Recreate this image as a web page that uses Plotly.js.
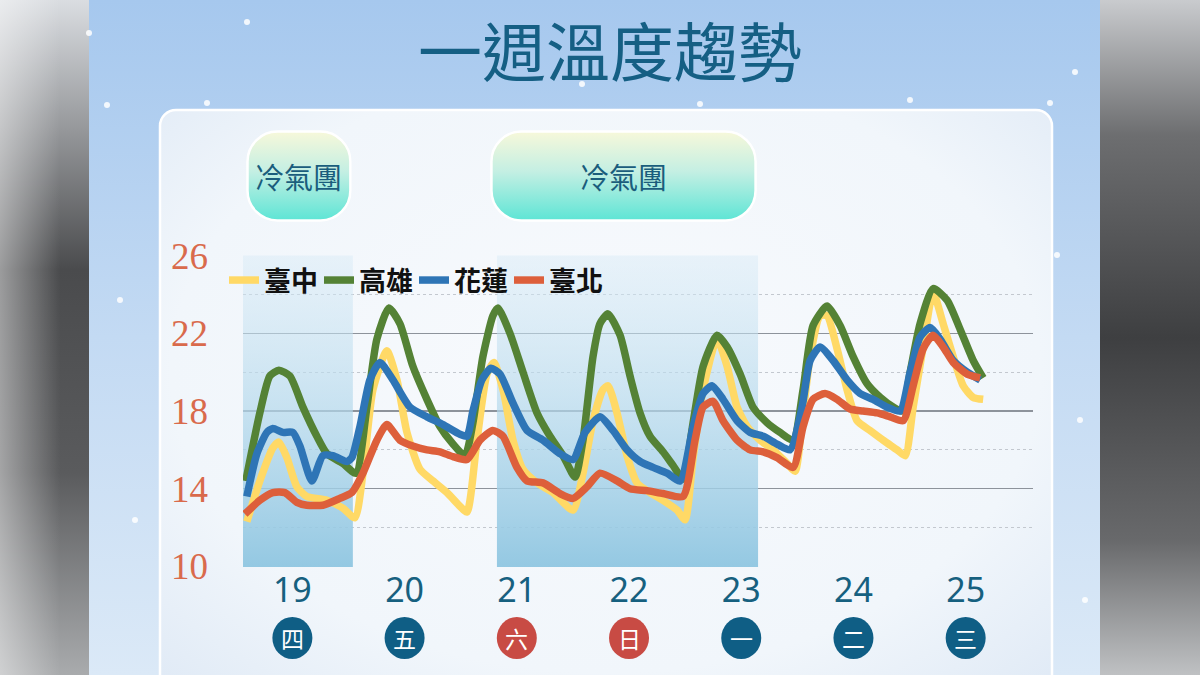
<!DOCTYPE html>
<html>
<head>
<meta charset="utf-8">
<script src="https://cdn.plot.ly/plotly-3.0.1.min.js"></script>
<style>
html,body{margin:0;padding:0;background:#ffffff;}
#chart{width:1200px;height:675px;}
</style>
</head>
<body>
<div id="chart"></div>
<script>
// ---------- data ----------
const chartTitle = '一週溫度趨勢';
const days = [19, 20, 21, 22, 23, 24, 25];
const dayLabels = ['19', '20', '21', '22', '23', '24', '25'];
const weekdays = ['四', '五', '六', '日', '一', '二', '三'];
const isWeekend = [false, false, true, true, false, false, false];
const coldStart = [18.56, 20.823];
const coldEnd = [19.539, 23.15];
const coldLabels = ['冷氣團', '冷氣團'];
const seriesNames = ['臺中', '高雄', '花蓮', '臺北'];
const yTicks = [10, 14, 18, 22, 26];
const yMinorTicks = [12, 16, 20, 24];

// time in days (fraction of day), temperature in °C
const taichungX = [18.594,18.710,18.826,18.880,18.951,19.040,19.129,19.308,19.450,19.557,19.629,19.718,19.842,19.932,20.021,20.137,20.253,20.377,20.493,20.556,20.645,20.734,20.796,20.877,20.966,21.055,21.180,21.322,21.501,21.590,21.679,21.768,21.813,21.893,21.982,22.071,22.187,22.303,22.428,22.499,22.571,22.660,22.784,22.874,22.963,23.052,23.168,23.284,23.409,23.480,23.542,23.614,23.703,23.765,23.854,23.943,24.033,24.148,24.264,24.389,24.461,24.532,24.621,24.710,24.799,24.889,24.978,25.067,25.156];
const taichungY = [12.3,14.4,16.1,16.4,15.6,14.1,13.6,13.4,13.0,12.5,14.8,19.1,21.1,19.6,16.9,15.0,14.4,13.8,13.1,12.8,16.5,19.9,20.5,19.1,16.5,15.0,14.3,13.8,12.9,14.8,17.5,19.1,19.3,17.9,15.7,14.3,13.8,13.4,12.9,12.4,15.6,19.1,21.7,20.3,18.2,17.2,16.5,16.0,15.3,14.9,17.4,20.8,22.9,22.9,21.2,19.1,17.5,17.0,16.5,16.0,15.7,18.2,21.3,24.1,22.5,20.8,19.3,18.7,18.6];

const kaohsiungX = [18.585,18.710,18.799,18.880,18.978,19.094,19.218,19.308,19.450,19.566,19.664,19.753,19.860,19.958,20.074,20.199,20.315,20.431,20.538,20.609,20.698,20.787,20.832,20.939,21.055,21.180,21.296,21.412,21.519,21.590,21.679,21.741,21.813,21.920,22.009,22.098,22.187,22.303,22.392,22.481,22.571,22.660,22.784,22.874,22.990,23.105,23.230,23.346,23.462,23.551,23.640,23.765,23.881,23.997,24.122,24.238,24.354,24.434,24.505,24.594,24.710,24.835,24.951,25.067,25.156];
const kaohsiungY = [14.4,17.9,19.8,20.1,19.8,18.2,16.7,15.8,15.3,14.8,18.2,21.7,23.3,22.5,20.3,18.6,17.2,16.3,15.7,17.4,20.8,22.9,23.3,22.0,20.0,17.9,16.7,15.7,14.6,16.5,20.8,22.5,23.0,21.9,19.8,17.9,16.7,15.9,15.2,14.5,17.4,20.3,21.9,21.3,19.9,18.2,17.4,16.9,16.5,19.1,22.4,23.4,22.4,20.8,19.4,18.7,18.2,18.0,20.0,22.5,24.3,23.7,22.2,20.6,19.7];

const hualienX = [18.594,18.684,18.773,18.826,18.915,19.004,19.067,19.174,19.272,19.361,19.486,19.530,19.602,19.691,19.780,19.896,20.048,20.199,20.342,20.493,20.556,20.609,20.689,20.770,20.850,20.966,21.091,21.233,21.385,21.501,21.608,21.741,21.857,21.982,22.098,22.214,22.339,22.455,22.571,22.660,22.740,22.838,22.963,23.079,23.195,23.319,23.435,23.542,23.614,23.703,23.819,23.943,24.059,24.175,24.300,24.416,24.505,24.594,24.683,24.773,24.889,25.013,25.129];
const hualienY = [13.6,15.8,16.9,17.1,16.9,16.9,16.2,14.4,15.7,15.7,15.4,15.6,17.2,19.6,20.5,19.6,18.2,17.7,17.3,16.8,16.7,18.0,19.6,20.2,19.9,18.4,17.0,16.5,15.8,15.5,16.9,17.7,17.0,16.0,15.4,15.1,14.8,14.4,17.2,18.9,19.3,18.6,17.5,16.9,16.7,16.3,16.0,18.2,20.6,21.3,20.6,19.6,18.9,18.6,18.2,18.0,20.0,21.8,22.3,21.7,20.6,20.0,19.6];

const taipeiX = [18.577,18.710,18.826,18.933,19.040,19.129,19.272,19.423,19.530,19.629,19.753,19.842,19.958,20.074,20.199,20.315,20.431,20.556,20.672,20.787,20.877,21.001,21.091,21.233,21.385,21.501,21.626,21.741,21.893,22.009,22.160,22.303,22.481,22.588,22.660,22.749,22.838,22.963,23.079,23.195,23.319,23.462,23.551,23.640,23.747,23.854,23.970,24.086,24.211,24.327,24.443,24.532,24.621,24.710,24.799,24.889,25.013,25.129];
const taipeiY = [12.7,13.4,13.8,13.8,13.3,13.15,13.15,13.5,13.8,14.8,16.5,17.3,16.5,16.2,16.0,15.9,15.65,15.5,16.5,17.0,16.7,15.1,14.4,14.3,13.75,13.5,14.1,14.8,14.4,14.0,13.9,13.75,13.6,16.5,18.2,18.5,17.5,16.5,16.0,15.9,15.6,15.1,17.2,18.6,18.9,18.6,18.1,18.0,17.9,17.7,17.5,19.3,21.2,21.9,21.3,20.5,19.9,19.7];

const seriesX = [taichungX, kaohsiungX, hualienX, taipeiX];
const seriesY = [taichungY, kaohsiungY, hualienY, taipeiY];

// ---------- styles / layout constants ----------
const COLORS = ['#ffd966', '#548235', '#2e75b6', '#dd5f3b'];
const W = 1200, H = 675;
const M = {l: 243, r: 167, t: 255, b: 108};
const PW = W - M.l - M.r, PH = H - M.t - M.b;
const XR = [18.56, 25.60];
const YR = [9.97, 26.03];
const FONT = '"Noto Sans CJK TC", "Noto Sans", sans-serif';

function xPaper(d) { return (d - XR[0]) / (XR[1] - XR[0]); }
function pxPaperX(px) { return (px - M.l) / PW; }
function pxPaperY(py) { return (H - M.b - py) / PH; }
function svgUri(s) { return 'data:image/svg+xml;charset=utf-8,' + encodeURIComponent(s); }

// background decoration
const snow = [[89,33],[247,22],[107,105],[207,103],[440,120],[582,84],[700,104],[910,100],[962,122],[1007,125],[1050,103],[1075,72],[1057,255],[1012,247],[120,300],[135,520],[1080,420],[1085,600]];
let snowSvg = snow.map(p => `<circle cx='${p[0]}' cy='${p[1]}' r='3' fill='#ffffff' opacity='0.85'/>`).join('');
const bgSvg = `<svg xmlns='http://www.w3.org/2000/svg' width='${W}' height='${H}' viewBox='0 0 ${W} ${H}'>
<defs>
<linearGradient id='bg' x1='0' y1='0' x2='0' y2='1'><stop offset='0' stop-color='#a6c8ee'/><stop offset='0.5' stop-color='#c3daf3'/><stop offset='1' stop-color='#dbe9f7'/></linearGradient>
<linearGradient id='gl' x1='0' y1='0' x2='0' y2='1'><stop offset='0' stop-color='#dadde1'/><stop offset='0.18' stop-color='#9a9c9f'/><stop offset='0.4' stop-color='#4a4b4d'/><stop offset='0.7' stop-color='#5a5b5d'/><stop offset='1' stop-color='#a9abad'/></linearGradient>
<linearGradient id='gr' x1='0' y1='0' x2='0' y2='1'><stop offset='0' stop-color='#c9cbce'/><stop offset='0.2' stop-color='#6d6e70'/><stop offset='0.5' stop-color='#3e3f41'/><stop offset='0.8' stop-color='#68696b'/><stop offset='1' stop-color='#bfc1c3'/></linearGradient>
<linearGradient id='gh' x1='0' y1='0' x2='1' y2='0'><stop offset='0' stop-color='#ffffff' stop-opacity='0.45'/><stop offset='1' stop-color='#ffffff' stop-opacity='0'/></linearGradient>
<radialGradient id='pn' cx='0.5' cy='0.42' r='0.75'><stop offset='0' stop-color='#f8fafd'/><stop offset='0.65' stop-color='#f1f6fb'/><stop offset='1' stop-color='#dde8f5'/></radialGradient>
</defs>
<rect x='0' y='0' width='${W}' height='${H}' fill='url(#bg)'/>
<rect x='0' y='0' width='89' height='${H}' fill='url(#gl)'/>
<rect x='0' y='0' width='60' height='${H}' fill='url(#gh)'/>
<rect x='1100' y='0' width='100' height='${H}' fill='url(#gr)'/>
${snowSvg}
<rect x='160' y='110' width='892' height='620' rx='16' ry='16' fill='url(#pn)' stroke='#ffffff' stroke-width='2.5'/>
</svg>`;

function boxSvg(w, h) {
  return `<svg xmlns='http://www.w3.org/2000/svg' width='${w}' height='${h}' viewBox='0 0 ${w} ${h}'>
<defs><linearGradient id='g' x1='0' y1='0' x2='0' y2='1'><stop offset='0' stop-color='#f7f8da'/><stop offset='0.45' stop-color='#c4efe3'/><stop offset='1' stop-color='#5de5d5'/></linearGradient></defs>
<rect x='1.5' y='1.5' width='${w-3}' height='${h-3}' rx='30' ry='30' fill='url(#g)' stroke='#ffffff' stroke-width='2.5'/></svg>`;
}

const images = [{
  source: svgUri(bgSvg), xref: 'paper', yref: 'paper',
  x: pxPaperX(0), y: pxPaperY(0), sizex: W / PW, sizey: H / PH,
  xanchor: 'left', yanchor: 'top', sizing: 'stretch', layer: 'below'
}];
const annotations = [];
const BOX_TOP = 130, BOX_BOTTOM = 222;
const BOX_PAD_LEFT = [3, -7];
coldStart.forEach((s, i) => {
  const x0 = xPaper(s) + BOX_PAD_LEFT[i] / PW, x1 = xPaper(coldEnd[i]) - 1 / PW;
  const wpx = Math.round((x1 - x0) * PW), hpx = BOX_BOTTOM - BOX_TOP;
  images.push({
    source: svgUri(boxSvg(wpx, hpx)), xref: 'paper', yref: 'paper',
    x: x0, y: pxPaperY(BOX_TOP), sizex: x1 - x0, sizey: hpx / PH,
    xanchor: 'left', yanchor: 'top', sizing: 'stretch', layer: 'below'
  });
  annotations.push({
    text: coldLabels[i], xref: 'paper', yref: 'paper',
    x: (x0 + x1) / 2, y: pxPaperY(176), xanchor: 'center', yanchor: 'middle',
    showarrow: false, font: {family: FONT, size: 29, color: '#1a5d7c'}
  });
});

const shapes = [];
days.forEach((d, i) => {
  const r = 20 / PW * (XR[1] - XR[0]);
  shapes.push({
    type: 'circle', xref: 'x', yref: 'paper',
    x0: d - r, x1: d + r, y0: pxPaperY(659), y1: pxPaperY(617),
    fillcolor: isWeekend[i] ? '#c84b44' : '#0f5e85', line: {width: 0}, layer: 'above'
  });
  annotations.push({
    text: weekdays[i], xref: 'x', yref: 'paper', x: d, y: pxPaperY(638),
    xanchor: 'center', yanchor: 'middle', showarrow: false,
    font: {family: FONT, size: 23, color: '#ffffff'}
  });
});

// ---------- traces ----------
const traces = [];
coldStart.forEach((s, i) => {
  traces.push({
    type: 'scatter', mode: 'none', showlegend: false, hoverinfo: 'skip',
    x: [s, coldEnd[i], coldEnd[i], s, s], y: [YR[0], YR[0], 26, 26, YR[0]],
    fill: 'toself',
    fillgradient: {type: 'vertical', colorscale: [[0, 'rgba(143,198,225,0.95)'], [1, 'rgba(215,234,246,0.45)']]}
  });
});
seriesNames.forEach((name, i) => {
  traces.push({
    type: 'scatter', mode: 'lines', name: name,
    x: seriesX[i], y: seriesY[i],
    line: {color: COLORS[i], width: 7.5, shape: 'spline', smoothing: 0.6},
    hoverinfo: 'skip'
  });
});

const layout = {
  width: W, height: H,
  margin: M,
  paper_bgcolor: 'rgba(0,0,0,0)', plot_bgcolor: 'rgba(0,0,0,0)',
  font: {family: FONT},
  title: {
    text: chartTitle, xref: 'container', yref: 'container',
    x: 610 / W, y: 1 - 54 / H, xanchor: 'center', yanchor: 'middle',
    font: {family: FONT, size: 64, color: '#155f84'}
  },
  showlegend: true,
  legend: {
    orientation: 'h', x: pxPaperX(224), y: pxPaperY(256), xanchor: 'left', yanchor: 'top',
    bgcolor: 'rgba(0,0,0,0)', borderwidth: 0, itemwidth: 30,
    entrywidth: 50, entrywidthmode: 'pixels',
    font: {family: FONT, size: 27, color: '#111111', weight: 'bold'},
    traceorder: 'normal', itemclick: false
  },
  xaxis: {
    range: XR, tickmode: 'array', tickvals: days, ticktext: dayLabels,
    showgrid: false, zeroline: false, showline: false, ticks: '',
    tickfont: {family: '"Noto Sans", sans-serif', size: 34, color: '#16607f'}
  },
  yaxis: {
    range: YR, tickmode: 'array', tickvals: yTicks,
    showgrid: true, gridcolor: '#8d939b', gridwidth: 1.5,
    zeroline: false, showline: false, ticks: '',
    ticklabelstandoff: 34,
    tickfont: {family: '"Liberation Serif", "DejaVu Serif", serif', size: 37, color: '#d96a4c'},
    minor: {tickmode: 'array', tickvals: yMinorTicks, showgrid: true, gridcolor: '#c3c8cf', griddash: 'dot', gridwidth: 1, ticks: ''}
  },
  images: images,
  shapes: shapes,
  annotations: annotations
};

Plotly.newPlot('chart', traces, layout, {displayModeBar: false, staticPlot: true});
</script>
</body>
</html>
